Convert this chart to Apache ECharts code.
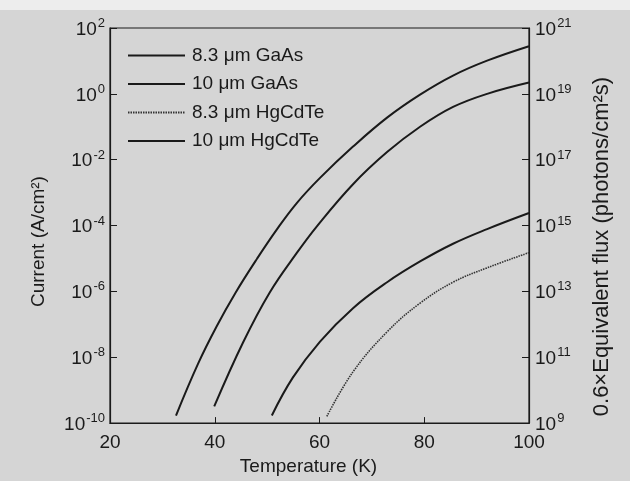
<!DOCTYPE html>
<html>
<head>
<meta charset="utf-8">
<script src="https://cdn.jsdelivr.net/npm/echarts@6/dist/echarts.min.js"></script>
<style>
  html, body { margin: 0; padding: 0; background: #d5d5d5; }
  #chart { width: 630px; height: 481px; }
</style>
</head>
<body>
<div id="chart"></div>
<script>
// temperatures (K) and current (A/cm2)
var gaAs10T = [32.6, 36.8, 40.4, 44.0, 48.1, 51.9, 55.7, 60.1, 66.4, 72.9, 79.2, 85.5, 92.0, 100];
var gaAs10J = [1.7e-10, 6.3e-9, 8.9e-8, 9.3e-7, 1.0e-5, 7.8e-5, 4.9e-4, 2.8e-3, 2.5e-2, 0.19, 0.95, 3.6, 10.2, 28];

var gaAs83T = [39.9, 45.4, 50.5, 55.7, 59.5, 66.4, 72.9, 79.2, 85.5, 92.0, 100];
var gaAs83J = [3.2e-10, 2.8e-8, 9.3e-7, 1.5e-5, 9.5e-5, 1.8e-3, 1.7e-2, 0.10, 0.40, 1.0, 2.2];

var hgCdTe10T = [50.9, 54.9, 60.1, 66.4, 72.9, 79.2, 85.5, 92.0, 100];
var hgCdTe10J = [1.7e-10, 2.4e-9, 3.0e-8, 3.1e-7, 1.9e-6, 8.1e-6, 2.8e-5, 7.8e-5, 2.4e-4];

var hgCdTe83T = [61.4, 66.4, 72.9, 79.2, 85.5, 92.0, 100];
var hgCdTe83J = [1.6e-10, 3.6e-9, 5.9e-8, 4.4e-7, 1.9e-6, 5.2e-6, 1.5e-5];

var xTicks = [20, 40, 60, 80, 100];

function pairs(t, v) {
    var out = [];
    for (var i = 0; i < t.length; i++) out.push([t[i], v[i]]);
    return out;
}

var font = 'Liberation Sans, Arial, sans-serif';
var ink = '#1a1a1a';

// 10^n label as rich text
function powLabel(v) {
    var e = Math.round(Math.log10(v));
    return '{b|10}{s|' + e + '}';
}
var powRich = {
    b: { fontSize: 19, fontFamily: font, color: ink, verticalAlign: 'bottom', lineHeight: 22, padding: [8, 0, 0, 0] },
    s: { fontSize: 13, fontFamily: font, color: ink, verticalAlign: 'top', lineHeight: 14, padding: [0, 0, 0, 1] }
};

var chart = echarts.init(document.getElementById('chart'));
chart.setOption({
    backgroundColor: '#d5d5d5',
    animation: false,
    graphic: [
        { type: 'rect', left: 0, top: 0, shape: { width: 630, height: 10 }, style: { fill: '#ededed' }, z: -1 }
    ],
    grid: {
        left: 110, right: 101, top: 28, bottom: 55,
        show: true, borderColor: ink, borderWidth: 1.2, backgroundColor: 'transparent'
    },
    legend: {
        orient: 'vertical',
        left: 122, top: 41,
        itemWidth: 57, itemHeight: 14, itemGap: 9.5,
        itemStyle: { opacity: 0 },
        textStyle: { fontSize: 19, fontFamily: font, color: ink, padding: [0, 0, 0, 2] },
        data: ['8.3 μm GaAs', '10 μm GaAs', '8.3 μm HgCdTe', '10 μm HgCdTe']
    },
    xAxis: {
        type: 'value',
        min: 20, max: 100, interval: 20,
        name: 'Temperature (K)',
        nameLocation: 'middle',
        nameGap: 32,
        nameTextStyle: { fontSize: 19, fontFamily: font, color: ink, padding: [0, 22, 0, 0] },
        axisLine: { lineStyle: { color: ink, width: 1.2 } },
        axisTick: { inside: true, length: 6, lineStyle: { color: ink } },
        axisLabel: { margin: 10, fontSize: 19, fontFamily: font, color: ink,
            formatter: function (v) { return xTicks.indexOf(v) >= 0 ? String(v) : ''; } },
        splitLine: { show: false }
    },
    yAxis: [
        {
            type: 'log', logBase: 10,
            min: 1e-10, max: 1e2, interval: 2,
            name: 'Current (A/cm²)',
            nameLocation: 'middle',
            nameGap: 62,
            nameRotate: 90,
            nameTextStyle: { fontSize: 19, fontFamily: font, color: ink, padding: [0, 32, 0, 0] },
            axisLine: { show: true, lineStyle: { color: ink, width: 1.2 } },
            axisTick: { inside: true, length: 7, lineStyle: { color: ink } },
            axisLabel: { margin: 5, formatter: powLabel, rich: powRich },
            splitLine: { show: false }
        },
        {
            type: 'log', logBase: 10,
            min: 1e9, max: 1e21, interval: 2,
            position: 'right',
            name: '0.6×Equivalent flux (photons/cm²s)',
            nameLocation: 'middle',
            nameGap: 62,
            nameRotate: 90,
            nameTextStyle: { fontSize: 22, fontFamily: font, color: ink, padding: [0, 42, 0, 0] },
            axisLine: { show: true, lineStyle: { color: ink, width: 1.2 } },
            axisTick: { inside: true, length: 7, lineStyle: { color: ink } },
            axisLabel: { margin: 6, formatter: powLabel, rich: powRich },
            splitLine: { show: false }
        }
    ],
    series: [
        {
            name: '8.3 μm GaAs', type: 'line', symbol: 'none', smooth: 0.4,
            lineStyle: { color: ink, width: 2 }, itemStyle: { color: ink },
            data: pairs(gaAs10T, gaAs10J)
        },
        {
            name: '10 μm GaAs', type: 'line', symbol: 'none', smooth: 0.4,
            lineStyle: { color: ink, width: 2 }, itemStyle: { color: ink },
            data: pairs(gaAs83T, gaAs83J)
        },
        {
            name: '8.3 μm HgCdTe', type: 'line', symbol: 'none', smooth: 0.4,
            lineStyle: { color: '#333', width: 1.6, type: [1.5, 1] }, itemStyle: { color: '#333' },
            data: pairs(hgCdTe83T, hgCdTe83J)
        },
        {
            name: '10 μm HgCdTe', type: 'line', symbol: 'none', smooth: 0.4,
            lineStyle: { color: ink, width: 2 }, itemStyle: { color: ink },
            data: pairs(hgCdTe10T, hgCdTe10J)
        }
    ]
});
</script>
</body>
</html>
